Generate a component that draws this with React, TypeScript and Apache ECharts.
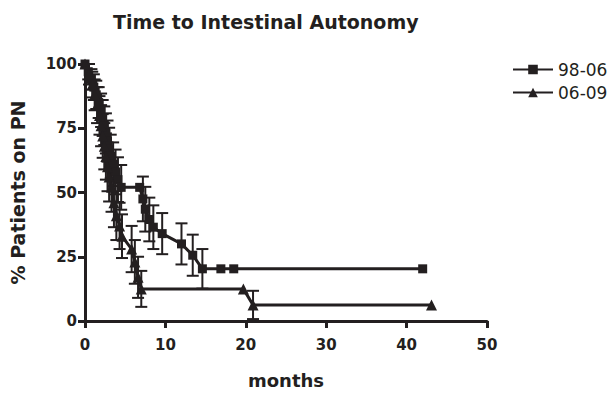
import React, { useEffect, useRef } from "react";
import * as echarts from "echarts";

// 98-06 cohort: time (months), % on PN, error (SEM); error 0 = censored mark
const months9806 = [0, 0.4, 0.8, 1.1, 1.4, 1.7, 2.0, 2.2, 2.4, 2.6, 2.8, 3.0, 3.2, 3.5, 3.8, 4.1, 4.5, 6.8, 7.2, 7.5, 8.0, 8.5, 9.6, 12.0, 13.4, 14.6, 16.9, 18.5, 42.0];
const pct9806 = [100, 97, 94, 91, 88, 85, 82, 79, 76, 73, 70, 67, 64, 61, 58, 55, 52, 52, 47.5, 43.5, 39.5, 36.5, 34, 30, 25.6, 20.3, 20.3, 20.3, 20.3];
const err9806 = [0, 3, 4, 5, 5.5, 6, 6.5, 7, 7.5, 7.8, 8, 8.2, 8.5, 8.5, 8.7, 8.7, 8.7, 0, 8.7, 8.7, 8.5, 8.5, 8, 8, 8, 7.7, 0, 0, 0];

// 06-09 cohort
const months0609 = [0, 0.5, 0.9, 1.2, 1.5, 1.8, 2.0, 2.2, 2.4, 2.6, 2.8, 3.0, 3.3, 3.6, 3.9, 4.3, 4.6, 5.8, 6.2, 6.6, 7.0, 19.7, 20.9, 43.1];
const pct0609 = [100, 96, 92, 88, 84, 80, 76, 72, 68, 64, 60, 56, 52, 46, 41, 37, 33, 28, 23, 17, 12.5, 12.5, 6.25, 6.25];
const err0609 = [0, 4, 5, 6, 7, 7.5, 8, 8.5, 9, 9, 9.5, 9.5, 9.5, 9.5, 9.5, 9, 8.5, 9, 8.5, 8, 7, 0, 5.5, 0];

const xTicks = [0, 10, 20, 30, 40, 50];
const yTicks = [0, 25, 50, 75, 100];

const seriesNames = ["98-06", "06-09"];

const INK = "#231f20";

function zip(t: number[], p: number[], e: number[]) {
  return t.map((v, i) => [v, p[i], e[i]]);
}

function errRender(params: any, api: any) {
  const t = api.value(0);
  const p = api.value(1);
  const e = api.value(2);
  const top = api.coord([t, p + e]);
  const bot = api.coord([t, p - e]);
  const hw = 6;
  const style = { stroke: INK, lineWidth: 2 };
  return {
    type: "group",
    children: [
      { type: "line", shape: { x1: top[0], y1: top[1], x2: bot[0], y2: bot[1] }, style },
      { type: "line", shape: { x1: top[0] - hw, y1: top[1], x2: top[0] + hw, y2: top[1] }, style },
      { type: "line", shape: { x1: bot[0] - hw, y1: bot[1], x2: bot[0] + hw, y2: bot[1] }, style },
    ],
  };
}

export default function App() {
  const ref = useRef<HTMLDivElement>(null);
  useEffect(() => {
    if (!ref.current) return;
    const chart = echarts.init(ref.current, null, { renderer: "svg" });
    const d1 = zip(months9806, pct9806, err9806);
    const d2 = zip(months0609, pct0609, err0609);
    const boldAxisFont = { fontFamily: "DejaVu Sans", fontWeight: "bold" as const, color: INK };
    chart.setOption({
      animation: false,
      backgroundColor: "#ffffff",
      title: {
        text: "Time to Intestinal Autonomy",
        left: 108,
        top: 7,
        textStyle: { ...boldAxisFont, fontSize: 19 },
      },
      legend: {
        data: seriesNames,
        orient: "vertical",
        left: 507,
        top: 56,
        itemWidth: 40,
        itemHeight: 12,
        itemGap: 6,
        textStyle: { fontFamily: "DejaVu Sans", fontSize: 17, color: INK },
      },
      grid: { left: 84, right: 127, top: 64, bottom: 62 },
      xAxis: {
        type: "value",
        min: 0,
        max: 50,
        interval: 10,
        name: "months",
        nameLocation: "middle",
        nameGap: 50,
        nameTextStyle: { ...boldAxisFont, fontSize: 18 },
        axisLine: { show: true, lineStyle: { color: INK, width: 3 } },
        axisTick: { show: true, length: 7, lineStyle: { color: INK, width: 3 } },
        axisLabel: { ...boldAxisFont, fontSize: 15, margin: 16, formatter: (v: number) => (xTicks.includes(v) ? String(v) : "") },
        splitLine: { show: false },
      },
      yAxis: {
        type: "value",
        min: 0,
        max: 100,
        interval: 25,
        name: "% Patients on PN",
        nameLocation: "middle",
        nameGap: 58,
        nameTextStyle: { ...boldAxisFont, fontSize: 19 },
        axisLine: { show: true, lineStyle: { color: INK, width: 3 } },
        axisTick: { show: true, length: 7, lineStyle: { color: INK, width: 3 } },
        axisLabel: { ...boldAxisFont, fontSize: 15, margin: 8, formatter: (v: number) => (yTicks.includes(v) ? String(v) : "") },
        splitLine: { show: false },
      },
      series: [
        {
          name: seriesNames[0],
          type: "line",
          data: d1.map((r) => [r[0], r[1]]),
          symbol: "rect",
          symbolSize: 9,
          lineStyle: { color: INK, width: 3 },
          itemStyle: { color: INK },
          z: 3,
        },
        {
          name: seriesNames[1],
          type: "line",
          data: d2.map((r) => [r[0], r[1]]),
          symbol: "triangle",
          symbolSize: 11,
          lineStyle: { color: INK, width: 3 },
          itemStyle: { color: INK },
          z: 3,
        },
        {
          name: seriesNames[0] + " SEM",
          type: "custom",
          data: d1.filter((r) => r[2] > 0),
          renderItem: errRender,
          encode: { x: 0, y: 1 },
          z: 2,
        },
        {
          name: seriesNames[1] + " SEM",
          type: "custom",
          data: d2.filter((r) => r[2] > 0),
          renderItem: errRender,
          encode: { x: 0, y: 1 },
          z: 2,
        },
      ],
    });
    return () => chart.dispose();
  }, []);
  return <div ref={ref} style={{ width: 614, height: 394, position: "absolute", left: 0, top: 0 }} />;
}
